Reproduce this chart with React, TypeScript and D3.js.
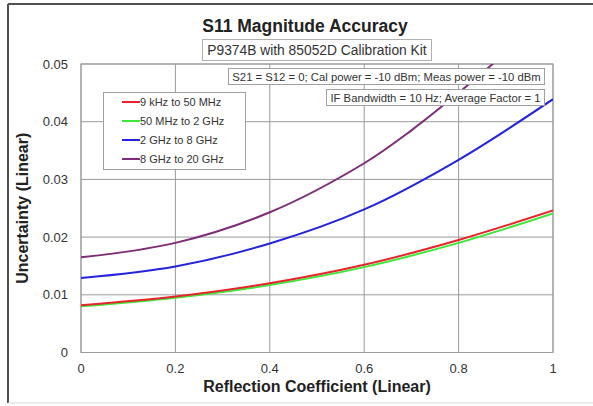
import React from "react";
import * as d3 from "d3";

const xValues = [0, 0.2, 0.4, 0.6, 0.8, 1.0];
const red = [0.0082, 0.0097, 0.0120, 0.0152, 0.0195, 0.0246];
const green = [0.0080, 0.0095, 0.0117, 0.0148, 0.0190, 0.0241];
const blue = [0.0129, 0.0149, 0.0189, 0.0248, 0.0334, 0.0439];
const purpleX = [0, 0.2, 0.4, 0.6, 0.7, 0.8, 0.9, 1.0];
const purple = [0.0165, 0.0190, 0.0243, 0.0328, 0.0385, 0.0450, 0.0520, 0.0595];

const seriesNames = ["9 kHz to 50 MHz", "50 MHz to 2 GHz", "2 GHz to 8 GHz", "8 GHz to 20 GHz"];
const seriesColors = ["#e8232b", "#3ee83a", "#2424dd", "#7e2c78"];
const xTicks = [0, 0.2, 0.4, 0.6, 0.8, 1];
const yTicks = [0, 0.01, 0.02, 0.03, 0.04, 0.05];

const title = "S11 Magnitude Accuracy";
const subtitle = "P9374B with 85052D Calibration Kit";
const note1 = "S21 = S12 = 0; Cal power = -10 dBm; Meas power = -10 dBm";
const note2 = "IF Bandwidth = 10 Hz; Average Factor = 1";
const xLabel = "Reflection Coefficient (Linear)";
const yLabel = "Uncertainty (Linear)";

const FONT = "'Liberation Sans', Arial, sans-serif";

export default function App() {
  const W = 593, H = 406;
  const left = 81, right = 553, top = 64, bottom = 352.5;
  const x = d3.scaleLinear().domain([0, 1]).range([left, right]);
  const y = d3.scaleLinear().domain([0, 0.05]).range([bottom, top]);

  const line = d3
    .line<[number, number]>()
    .x((d) => x(d[0]))
    .y((d) => y(d[1]))
    .curve(d3.curveCatmullRom.alpha(0.5));

  const series: [number, number][][] = [
    xValues.map((v, i) => [v, red[i]] as [number, number]),
    xValues.map((v, i) => [v, green[i]] as [number, number]),
    xValues.map((v, i) => [v, blue[i]] as [number, number]),
    purpleX.map((v, i) => [v, purple[i]] as [number, number]),
  ];
  const order = [3, 2, 1, 0];

  const grid = "#9a9a9a";

  return (
    <svg
      width={W}
      height={H}
      style={{ position: "absolute", left: 0, top: 0, background: "#fff" }}
      fontFamily={FONT}
    >
      <rect x={0} y={0} width={W} height={H} fill="#fff" />
      <line x1={8} y1={4} x2={W} y2={4} stroke="#505050" strokeWidth={2} />
      <line x1={8} y1={4} x2={8} y2={403} stroke="#505050" strokeWidth={2} />
      <line x1={8} y1={403} x2={W} y2={403} stroke="#d8d8d8" strokeWidth={1} />

      <defs>
        <clipPath id="plotclip">
          <rect x={left} y={top} width={right - left} height={bottom - top} />
        </clipPath>
      </defs>

      {xTicks.map((t) => (
        <line key={"gx" + t} x1={x(t)} x2={x(t)} y1={top} y2={bottom} stroke={grid} strokeWidth={1} />
      ))}
      {yTicks.map((t) => (
        <line key={"gy" + t} x1={left} x2={right} y1={y(t)} y2={y(t)} stroke={grid} strokeWidth={1} />
      ))}
      <rect x={left} y={top} width={right - left} height={bottom - top} fill="none" stroke={grid} strokeWidth={1} />

      <g clipPath="url(#plotclip)">
        {order.map((i) => (
          <path key={"s" + i} d={line(series[i]) || ""} fill="none" stroke={seriesColors[i]} strokeWidth={2} />
        ))}
      </g>

      {yTicks.map((t) => (
        <text key={"ty" + t} x={68} y={y(t) + 4.5} textAnchor="end" fontSize={13} fill="#333">
          {t === 0 ? "0" : d3.format(".2f")(t)}
        </text>
      ))}
      {xTicks.map((t) => (
        <text key={"tx" + t} x={x(t)} y={372.5} textAnchor="middle" fontSize={13} fill="#333">
          {t === 0 ? "0" : t === 1 ? "1" : d3.format(".1f")(t)}
        </text>
      ))}

      <text x={317} y={392} textAnchor="middle" fontSize={16} fontWeight="bold" fill="#222">
        {xLabel}
      </text>
      <text
        transform={`translate(28,${(top + bottom) / 2}) rotate(-90)`}
        textAnchor="middle"
        fontSize={16}
        fontWeight="bold"
        fill="#222"
      >
        {yLabel}
      </text>

      <text x={305} y={32} textAnchor="middle" fontSize={17.5} fontWeight="bold" fill="#222">
        {title}
      </text>
      <rect x={202.5} y={39.5} width={229} height={21} fill="#fff" stroke="#b0b0b0" strokeWidth={1} />
      <text x={317} y={55} textAnchor="middle" fontSize={13.8} fill="#333">
        {subtitle}
      </text>

      <rect x={228.5} y={68.5} width={316} height={16} fill="#fff" stroke="#a0a0a0" strokeWidth={1} />
      <text x={386.5} y={80.5} textAnchor="middle" fontSize={11.3} fill="#333">
        {note1}
      </text>
      <rect x={326.5} y={89.5} width={218} height={16} fill="#fff" stroke="#a0a0a0" strokeWidth={1} />
      <text x={435.5} y={101.5} textAnchor="middle" fontSize={11.3} fill="#333">
        {note2}
      </text>

      <rect x={103.5} y={92.5} width={142} height={77} fill="#fff" stroke="#a0a0a0" strokeWidth={1} />
      {seriesNames.map((n, i) => {
        const ly = 102 + i * 19;
        return (
          <g key={"lg" + i}>
            <line x1={122} x2={140} y1={ly} y2={ly} stroke={seriesColors[i]} strokeWidth={2} />
            <text x={140} y={ly + 4} fontSize={11} fill="#333">
              {n}
            </text>
          </g>
        );
      })}
    </svg>
  );
}
